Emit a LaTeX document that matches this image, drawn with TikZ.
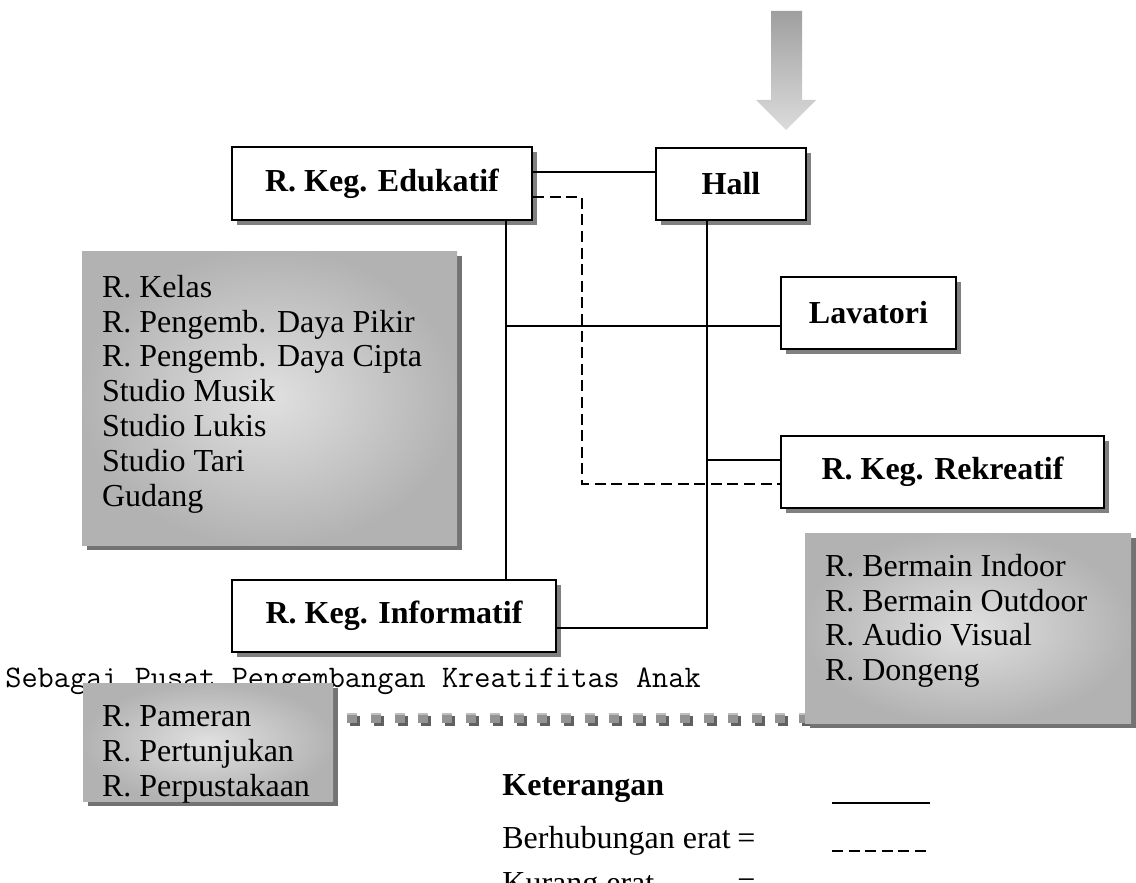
\documentclass[tikz,border=0pt]{standalone}
\usepackage{fontspec}
\setmainfont{Liberation Serif}
\usetikzlibrary{shadows,positioning}
\tikzset{
  roombox/.style={draw,line width=1pt,fill=white,inner sep=0pt,minimum height=36pt,
    font=\fontsize{16}{19}\selectfont\bfseries,
    drop shadow={shadow xshift=2.5pt,shadow yshift=-2.5pt,fill=gray,opacity=1}},
  listbox/.style={shade,inner color=gray!24,outer color=gray!60,inner sep=0pt,
    drop shadow={shadow xshift=2.5pt,shadow yshift=-2.5pt,fill=gray!90!black,opacity=1}},
  listtext/.style={anchor=north west,inner sep=0pt,align=left,font=\fontsize{16}{17.4}\selectfont},
  plain/.style={anchor=base west,inner sep=0pt,font=\fontsize{16}{19}\selectfont},
  link/.style={line width=1pt},
  weaklink/.style={line width=1pt,dash pattern=on 5.5pt off 2.8pt},
  sqbody/.style={fill=gray!85},
  sqlight/.style={fill=gray!50},
  sqshade/.style={fill=gray!75!black}
}

\begin{document}
\begin{tikzpicture}[x=0.5pt,y=-0.5pt]
  \useasboundingbox (0,0) rectangle (1136,883);

  % --- panah masuk ---
  \shade[top color=gray!75,bottom color=gray!28]
    (771,11) -- (802,11) -- (802,100) -- (816,100) -- (786,130)
    -- (756,100) -- (771,100) -- cycle;

  % --- deretan kotak kecil ---
  \foreach \i in {0,...,20}{
    \fill[sqshade] (347+23.8*\i+3,716) rectangle ++(10,10);
    \fill[sqbody] (347+23.8*\i,713) rectangle ++(10,10);
    \fill[sqlight] (347+23.8*\i,713) rectangle ++(10,2);
  }

  \node[anchor=base west,inner sep=0pt,font=\ttfamily\fontsize{15.7}{18}\selectfont]
    (motto) at (5,687) {Sebagai Pusat Pengembangan Kreatifitas Anak};

  % --- ruang utama ---
  \node[roombox,minimum width=150pt,minimum height=36.5pt] (edu) at (382,183.5) {R. Keg. Edukatif};
  \node[roombox,minimum width=75pt] (hall) at (731,184) {Hall};
  \node[roombox,minimum width=87.5pt] (lav) at (868.5,313) {Lavatori};
  \node[roombox,minimum width=161.5pt] (rek) at (942.5,472) {R. Keg. Rekreatif};
  \node[roombox,minimum width=162pt] (info) at (394,616) {R. Keg. Informatif};

  % --- daftar ruang ---
  \node[listbox,minimum width=187.5pt,minimum height=147pt] (edulist) at (269.5,398) {};
  \node[listtext] (edutext) at ([xshift=10pt,yshift=-12pt]edulist.north west)
    {R. Kelas\\R. Pengemb. Daya Pikir\\R. Pengemb. Daya Cipta\\Studio Musik\\Studio Lukis\\Studio Tari\\Gudang};

  \node[listbox,minimum width=163pt,minimum height=95pt] (reklist) at (968,628) {};
  \node[listtext] (rektext) at ([xshift=10pt,yshift=-10.5pt]reklist.north west)
    {R. Bermain Indoor\\R. Bermain Outdoor\\R. Audio Visual\\R. Dongeng};

  \node[listbox,minimum width=125pt,minimum height=59pt] (infolist) at (208,742) {};
  \node[listtext] (infotext) at ([xshift=9.5pt,yshift=-11.5pt]infolist.north west)
    {R. Pameran\\R. Pertunjukan\\R. Perpustakaan};

  % --- hubungan ---
  \draw[link] ([yshift=5.75pt]edu.east) -- ([yshift=6pt]hall.west);
  \draw[link] ([xshift=62pt]edu.south) coordinate (eduv) -- (eduv |- info.north);
  \coordinate (lavin) at ([yshift=-6.5pt]lav.west);
  \draw[link] (eduv |- lavin) -- (lavin);
  \draw[link] ([xshift=-12pt]hall.south) coordinate (hallv) |- ([yshift=-6pt]info.east);
  \coordinate (rekin) at ([yshift=6pt]rek.west);
  \draw[link] (hallv |- rekin) -- (rekin);
  \draw[weaklink] ([yshift=-6.75pt]edu.east) -- ++(24.5pt,0) |- ([yshift=-6pt]rek.west);

  % --- keterangan ---
  \node[plain,font=\fontsize{16}{19}\selectfont\bfseries] (ket) at (502,795) {Keterangan};
  \node[plain] (erat) at (502,848) {Berhubungan erat};
  \node[plain] (eqA) at (737,848) {=};
  \node[plain] (kurang) at (502,893) {Kurang erat};
  \node[plain] (eqB) at (737,893) {=};
  \coordinate (keyA) at (832,803);
  \coordinate (keyB) at (832,851);
  \draw[link] (keyA) -- ++(49pt,0);
  \draw[weaklink] (keyB) -- ++(49pt,0);
\end{tikzpicture}
\end{document}
